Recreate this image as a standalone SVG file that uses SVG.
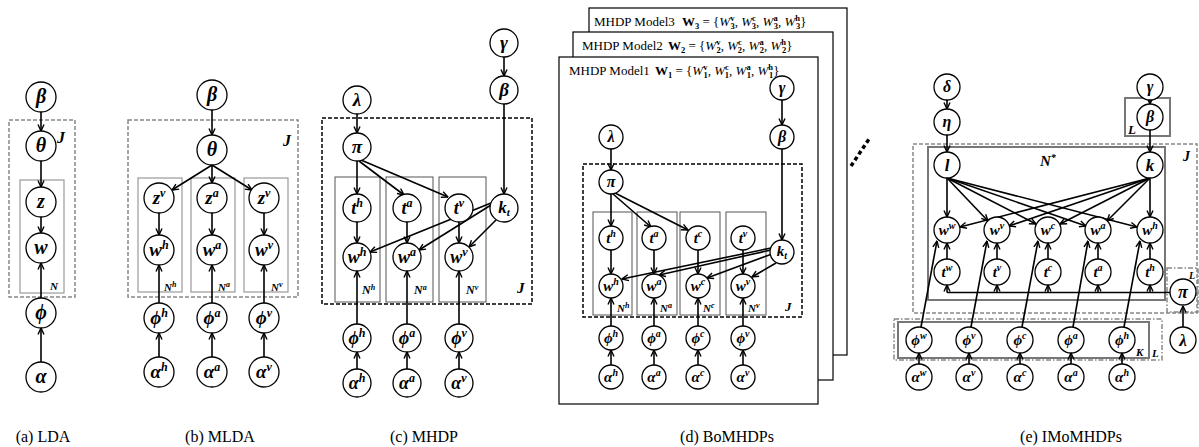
<svg xmlns="http://www.w3.org/2000/svg" width="1199" height="447" viewBox="0 0 1199 447">
<defs>
<marker id="ah" viewBox="0 0 8 8" refX="7.5" refY="4" markerWidth="8" markerHeight="8" markerUnits="userSpaceOnUse" orient="auto"><path d="M1,1 L7.5,4 L1,7" fill="none" stroke="#000" stroke-width="1.4"/></marker>
</defs>
<style>
.n{fill:#fff;stroke:#000;stroke-width:1.3}
.v{font-family:"Liberation Serif","DejaVu Serif",serif;font-style:italic;font-weight:bold;text-anchor:middle;fill:#000}
.e{stroke:#000;stroke-width:1.6;fill:none;marker-end:url(#ah)}
.ln{stroke:#000;stroke-width:1.6;fill:none}
.pg{fill:none;stroke:#888;stroke-width:1.5;stroke-dasharray:4 2}
.pb{fill:none;stroke:#000;stroke-width:1.5;stroke-dasharray:4 2}
.ps{fill:none;stroke:#999;stroke-width:1.2}
.pk{fill:none;stroke:#555;stroke-width:1}
.pt{fill:none;stroke:#777;stroke-width:2}
.pd{fill:none;stroke:#888;stroke-width:1.5;stroke-dasharray:5 2 1.5 2}
.page{fill:#fff;stroke:#000;stroke-width:1.2}
.cap{font-family:"Liberation Serif","Times New Roman",serif;font-size:16px;text-anchor:middle;fill:#000}
.pl{font-family:"Liberation Serif","DejaVu Serif",serif;font-style:italic;font-weight:bold;fill:#000}
.ttl{font-family:"Liberation Serif","Times New Roman",serif;font-size:13px;fill:#000}
.sb{font-size:8.5px;font-weight:bold}
.it{font-style:italic}
</style>

<!-- (a) LDA -->
<g id="a_plates">
<rect class="pg" x="9" y="120" width="66" height="177"/>
<rect class="ps" x="20" y="180" width="44" height="113"/>
<text class="pl" x="57" y="143" font-size="16">J</text>
<text class="pl" x="50" y="290" font-size="11">N</text>
</g>
<g id="a_edges">
<path class="e" d="M41,112 L41,131"/>
<path class="e" d="M41,161 L41,187"/>
<path class="e" d="M41,217 L41,233"/>
<path class="e" d="M41,298 L41,263"/>
<path class="e" d="M41,362 L41,328"/>
</g>
<g id="a_beta"><circle class="n" cx="41" cy="97" r="15"/><text class="v" x="41" y="103" font-size="20">β</text></g>
<g id="a_theta"><circle class="n" cx="41" cy="146" r="15"/><text class="v" x="41" y="152" font-size="20">θ</text></g>
<g id="a_z"><circle class="n" cx="41" cy="202" r="15"/><text class="v" x="41" y="208" font-size="20">z</text></g>
<g id="a_w"><circle class="n" cx="41" cy="248" r="15"/><text class="v" x="41" y="254" font-size="20">w</text></g>
<g id="a_phi"><circle class="n" cx="41" cy="313" r="15"/><text class="v" x="41" y="319" font-size="20">ϕ</text></g>
<g id="a_alpha"><circle class="n" cx="41" cy="377" r="15"/><text class="v" x="41" y="383" font-size="20">α</text></g>
<text class="cap" x="43" y="442">(a) LDA</text>

<!-- (b) MLDA -->
<g id="b_plates">
<rect class="pg" x="128" y="120" width="170" height="177"/>
<rect class="ps" x="138" y="178" width="44" height="114"/>
<rect class="ps" x="191" y="178" width="44" height="114"/>
<rect class="ps" x="244" y="178" width="44" height="114"/>
<text class="pl" x="283" y="146" font-size="16">J</text>
<text class="pl" x="164" y="291" font-size="11">N<tspan font-size="8" dy="-4">h</tspan></text>
<text class="pl" x="218" y="291" font-size="11">N<tspan font-size="8" dy="-4">a</tspan></text>
<text class="pl" x="271" y="291" font-size="11">N<tspan font-size="8" dy="-4">v</tspan></text>
</g>
<g id="b_edges">
<path class="e" d="M212,110 L212,135"/>
<path class="e" d="M212,165 L172,190"/>
<path class="e" d="M212,165 L212,183"/>
<path class="e" d="M212,165 L252,190"/>
<path class="e" d="M159,213 L159,235"/>
<path class="e" d="M212,213 L212,235"/>
<path class="e" d="M264,213 L264,235"/>
<path class="e" d="M159,303 L159,265"/>
<path class="e" d="M212,303 L212,265"/>
<path class="e" d="M264,303 L264,265"/>
<path class="e" d="M159,357 L159,333"/>
<path class="e" d="M212,357 L212,333"/>
<path class="e" d="M264,357 L264,333"/>
</g>
<g id="b_beta"><circle class="n" cx="212" cy="95" r="15"/><text class="v" x="212" y="101" font-size="20">β</text></g>
<g id="b_theta"><circle class="n" cx="212" cy="150" r="15"/><text class="v" x="212" y="156" font-size="20">θ</text></g>
<g id="b_z1"><circle class="n" cx="159" cy="198" r="15"/><text class="v" x="159" y="204" font-size="19">z<tspan font-size="12" dy="-7">v</tspan></text></g>
<g id="b_z2"><circle class="n" cx="212" cy="198" r="15"/><text class="v" x="212" y="204" font-size="19">z<tspan font-size="12" dy="-7">a</tspan></text></g>
<g id="b_z3"><circle class="n" cx="264" cy="198" r="15"/><text class="v" x="264" y="204" font-size="19">z<tspan font-size="12" dy="-7">v</tspan></text></g>
<g id="b_w1"><circle class="n" cx="159" cy="250" r="15"/><text class="v" x="159" y="256" font-size="19">w<tspan font-size="12" dy="-7">h</tspan></text></g>
<g id="b_w2"><circle class="n" cx="212" cy="250" r="15"/><text class="v" x="212" y="256" font-size="19">w<tspan font-size="12" dy="-7">a</tspan></text></g>
<g id="b_w3"><circle class="n" cx="264" cy="250" r="15"/><text class="v" x="264" y="256" font-size="19">w<tspan font-size="12" dy="-7">v</tspan></text></g>
<g id="b_phi1"><circle class="n" cx="159" cy="318" r="15"/><text class="v" x="159" y="324" font-size="19">ϕ<tspan font-size="12" dy="-7">h</tspan></text></g>
<g id="b_phi2"><circle class="n" cx="212" cy="318" r="15"/><text class="v" x="212" y="324" font-size="19">ϕ<tspan font-size="12" dy="-7">a</tspan></text></g>
<g id="b_phi3"><circle class="n" cx="264" cy="318" r="15"/><text class="v" x="264" y="324" font-size="19">ϕ<tspan font-size="12" dy="-7">v</tspan></text></g>
<g id="b_alpha1"><circle class="n" cx="159" cy="372" r="15"/><text class="v" x="159" y="378" font-size="19">α<tspan font-size="12" dy="-7">h</tspan></text></g>
<g id="b_alpha2"><circle class="n" cx="212" cy="372" r="15"/><text class="v" x="212" y="378" font-size="19">α<tspan font-size="12" dy="-7">a</tspan></text></g>
<g id="b_alpha3"><circle class="n" cx="264" cy="372" r="15"/><text class="v" x="264" y="378" font-size="19">α<tspan font-size="12" dy="-7">v</tspan></text></g>
<text class="cap" x="220" y="442">(b) MLDA</text>

<!-- (c) MHDP -->
<g id="c_plates">
<rect class="pb" x="322" y="118" width="210" height="186"/>
<rect class="pk" x="335" y="177" width="45" height="125"/>
<rect class="pk" x="386" y="177" width="47" height="125"/>
<rect class="pk" x="439" y="177" width="47" height="125"/>
<text class="pl" x="517" y="293" font-size="15">J</text>
<text class="pl" x="362" y="294" font-size="12">N<tspan font-size="8" dy="-4">h</tspan></text>
<text class="pl" x="414" y="294" font-size="12">N<tspan font-size="8" dy="-4">a</tspan></text>
<text class="pl" x="466" y="294" font-size="12">N<tspan font-size="8" dy="-4">v</tspan></text>
</g>
<g id="c_edges">
<path class="e" d="M504,57 L504,76"/>
<path class="e" d="M357,114 L357,133"/>
<path class="e" d="M504,104 L504,194"/>
<path class="e" d="M357,161 L357,194"/>
<path class="e" d="M359,161 L404,195"/>
<path class="e" d="M361,160 L448,197"/>
<path class="e" d="M357,222 L357,243"/>
<path class="e" d="M407,222 L407,243"/>
<path class="e" d="M459,222 L459,243"/>
<path class="e" d="M491,203 L370,252"/>
<path class="e" d="M491,205 L419,250"/>
<path class="e" d="M496,220 L469,247"/>
<path class="e" d="M357,324 L357,271"/>
<path class="e" d="M407,324 L407,271"/>
<path class="e" d="M459,324 L459,271"/>
<path class="e" d="M357,369 L357,352"/>
<path class="e" d="M407,369 L407,352"/>
<path class="e" d="M459,369 L459,352"/>
</g>
<g id="c_gamma"><circle class="n" cx="504" cy="43" r="14"/><text class="v" x="504" y="49" font-size="19">γ</text></g>
<g id="c_beta"><circle class="n" cx="504" cy="90" r="14"/><text class="v" x="504" y="96" font-size="19">β</text></g>
<g id="c_lambda"><circle class="n" cx="357" cy="100" r="14"/><text class="v" x="357" y="106" font-size="19">λ</text></g>
<g id="c_pi"><circle class="n" cx="357" cy="147" r="14"/><text class="v" x="357" y="153" font-size="19">π</text></g>
<g id="c_th"><circle class="n" cx="357" cy="208" r="14"/><text class="v" x="357" y="214" font-size="18">t<tspan font-size="12" dy="-7">h</tspan></text></g>
<g id="c_ta"><circle class="n" cx="407" cy="208" r="14"/><text class="v" x="407" y="214" font-size="18">t<tspan font-size="12" dy="-7">a</tspan></text></g>
<g id="c_tv"><circle class="n" cx="459" cy="208" r="14"/><text class="v" x="459" y="214" font-size="18">t<tspan font-size="12" dy="-7">v</tspan></text></g>
<g id="c_kt"><circle class="n" cx="504" cy="208" r="14"/><text class="v" x="504" y="213" font-size="17">k<tspan font-size="11" dy="3">t</tspan></text></g>
<g id="c_wh"><circle class="n" cx="357" cy="257" r="14"/><text class="v" x="357" y="263" font-size="18">w<tspan font-size="12" dy="-7">h</tspan></text></g>
<g id="c_wa"><circle class="n" cx="407" cy="257" r="14"/><text class="v" x="407" y="263" font-size="18">w<tspan font-size="12" dy="-7">a</tspan></text></g>
<g id="c_wv"><circle class="n" cx="459" cy="257" r="14"/><text class="v" x="459" y="263" font-size="18">w<tspan font-size="12" dy="-7">v</tspan></text></g>
<g id="c_phih"><circle class="n" cx="357" cy="338" r="14"/><text class="v" x="357" y="344" font-size="18">ϕ<tspan font-size="12" dy="-7">h</tspan></text></g>
<g id="c_phia"><circle class="n" cx="407" cy="338" r="14"/><text class="v" x="407" y="344" font-size="18">ϕ<tspan font-size="12" dy="-7">a</tspan></text></g>
<g id="c_phiv"><circle class="n" cx="459" cy="338" r="14"/><text class="v" x="459" y="344" font-size="18">ϕ<tspan font-size="12" dy="-7">v</tspan></text></g>
<g id="c_alh"><circle class="n" cx="357" cy="383" r="14"/><text class="v" x="357" y="389" font-size="18">α<tspan font-size="12" dy="-7">h</tspan></text></g>
<g id="c_ala"><circle class="n" cx="407" cy="383" r="14"/><text class="v" x="407" y="389" font-size="18">α<tspan font-size="12" dy="-7">a</tspan></text></g>
<g id="c_alv"><circle class="n" cx="459" cy="383" r="14"/><text class="v" x="459" y="389" font-size="18">α<tspan font-size="12" dy="-7">v</tspan></text></g>
<text class="cap" x="424" y="442">(c) MHDP</text>

<!-- (d) BoMHDPs -->
<g id="d_pages">
<rect class="page" x="589" y="8" width="258" height="347"/>
<text class="ttl" x="594" y="26">MHDP Model3</text>
<text class="ttl" x="682" y="26"><tspan font-weight="bold">W</tspan><tspan class="sb" dy="3">3</tspan><tspan dy="-3"> = {</tspan><tspan class="it">W</tspan><tspan class="sb" dy="-5">v</tspan><tspan class="sb" dx="-4" dy="8">3</tspan><tspan dy="-3">, </tspan><tspan class="it">W</tspan><tspan class="sb" dy="-5">c</tspan><tspan class="sb" dx="-4" dy="8">3</tspan><tspan dy="-3">, </tspan><tspan class="it">W</tspan><tspan class="sb" dy="-5">a</tspan><tspan class="sb" dx="-4" dy="8">3</tspan><tspan dy="-3">, </tspan><tspan class="it">W</tspan><tspan class="sb" dy="-5">h</tspan><tspan class="sb" dx="-4" dy="8">3</tspan><tspan dy="-3">}</tspan></text>
<rect class="page" x="573" y="32" width="260" height="348"/>
<text class="ttl" x="582" y="50">MHDP Model2</text>
<text class="ttl" x="668" y="50"><tspan font-weight="bold">W</tspan><tspan class="sb" dy="3">2</tspan><tspan dy="-3"> = {</tspan><tspan class="it">W</tspan><tspan class="sb" dy="-5">v</tspan><tspan class="sb" dx="-4" dy="8">2</tspan><tspan dy="-3">, </tspan><tspan class="it">W</tspan><tspan class="sb" dy="-5">c</tspan><tspan class="sb" dx="-4" dy="8">2</tspan><tspan dy="-3">, </tspan><tspan class="it">W</tspan><tspan class="sb" dy="-5">a</tspan><tspan class="sb" dx="-4" dy="8">2</tspan><tspan dy="-3">, </tspan><tspan class="it">W</tspan><tspan class="sb" dy="-5">h</tspan><tspan class="sb" dx="-4" dy="8">2</tspan><tspan dy="-3">}</tspan></text>
<rect class="page" x="559" y="57" width="259" height="347"/>
<text class="ttl" x="569" y="75">MHDP Model1</text>
<text class="ttl" x="655" y="75"><tspan font-weight="bold">W</tspan><tspan class="sb" dy="3">1</tspan><tspan dy="-3"> = {</tspan><tspan class="it">W</tspan><tspan class="sb" dy="-5">v</tspan><tspan class="sb" dx="-4" dy="8">1</tspan><tspan dy="-3">, </tspan><tspan class="it">W</tspan><tspan class="sb" dy="-5">c</tspan><tspan class="sb" dx="-4" dy="8">1</tspan><tspan dy="-3">, </tspan><tspan class="it">W</tspan><tspan class="sb" dy="-5">a</tspan><tspan class="sb" dx="-4" dy="8">1</tspan><tspan dy="-3">, </tspan><tspan class="it">W</tspan><tspan class="sb" dy="-5">h</tspan><tspan class="sb" dx="-4" dy="8">1</tspan><tspan dy="-3">}</tspan></text>
<path d="M851,166 L869,139" stroke="#000" stroke-width="3.5" stroke-dasharray="4 3" fill="none"/>
</g>
<g id="d_plates">
<rect class="pb" x="583" y="164" width="219" height="153"/>
<rect class="pk" x="593" y="212" width="39" height="103"/>
<rect class="pk" x="637" y="212" width="40" height="103"/>
<rect class="pk" x="680" y="212" width="40" height="103"/>
<rect class="pk" x="726" y="212" width="40" height="103"/>
<text class="pl" x="785" y="311" font-size="13">J</text>
<text class="pl" x="617" y="312" font-size="11">N<tspan font-size="8" dy="-4">h</tspan></text>
<text class="pl" x="660" y="312" font-size="11">N<tspan font-size="8" dy="-4">a</tspan></text>
<text class="pl" x="703" y="312" font-size="11">N<tspan font-size="8" dy="-4">c</tspan></text>
<text class="pl" x="748" y="312" font-size="11">N<tspan font-size="8" dy="-4">v</tspan></text>
</g>
<g id="d_edges">
<path class="e" d="M782,100 L782,125"/>
<path class="e" d="M611,149 L611,170"/>
<path class="e" d="M782,149 L782,240"/>
<path class="e" d="M611,194 L611,226"/>
<path class="e" d="M613,194 L651,227"/>
<path class="e" d="M615,193 L688,230"/>
<path class="e" d="M611,250 L611,274"/>
<path class="e" d="M654,250 L654,274"/>
<path class="e" d="M698,250 L698,274"/>
<path class="e" d="M743,250 L743,274"/>
<path class="e" d="M771,248 L622,279"/>
<path class="e" d="M771,250 L659,275"/>
<path class="e" d="M772,254 L707,278"/>
<path class="e" d="M776,263 L752,277"/>
<path class="e" d="M611,326 L611,298"/>
<path class="e" d="M654,326 L654,298"/>
<path class="e" d="M698,326 L698,298"/>
<path class="e" d="M743,326 L743,298"/>
<path class="e" d="M611,365 L611,350"/>
<path class="e" d="M654,365 L654,350"/>
<path class="e" d="M698,365 L698,350"/>
<path class="e" d="M743,365 L743,350"/>
</g>
<g id="d_gamma"><circle class="n" cx="782" cy="88" r="12"/><text class="v" x="782" y="93" font-size="16">γ</text></g>
<g id="d_beta"><circle class="n" cx="782" cy="137" r="12"/><text class="v" x="782" y="142" font-size="16">β</text></g>
<g id="d_lambda"><circle class="n" cx="611" cy="137" r="12"/><text class="v" x="611" y="142" font-size="16">λ</text></g>
<g id="d_pi"><circle class="n" cx="611" cy="182" r="12"/><text class="v" x="611" y="187" font-size="16">π</text></g>
<g id="d_th"><circle class="n" cx="611" cy="238" r="12"/><text class="v" x="611" y="243" font-size="15">t<tspan font-size="10" dy="-6">h</tspan></text></g>
<g id="d_ta"><circle class="n" cx="654" cy="238" r="12"/><text class="v" x="654" y="243" font-size="15">t<tspan font-size="10" dy="-6">a</tspan></text></g>
<g id="d_tc"><circle class="n" cx="698" cy="238" r="12"/><text class="v" x="698" y="243" font-size="15">t<tspan font-size="10" dy="-6">c</tspan></text></g>
<g id="d_tv"><circle class="n" cx="743" cy="238" r="12"/><text class="v" x="743" y="243" font-size="15">t<tspan font-size="10" dy="-6">v</tspan></text></g>
<g id="d_kt"><circle class="n" cx="782" cy="252" r="12"/><text class="v" x="782" y="256" font-size="15">k<tspan font-size="10" dy="3">t</tspan></text></g>
<g id="d_wh"><circle class="n" cx="611" cy="286" r="12"/><text class="v" x="611" y="291" font-size="15">w<tspan font-size="10" dy="-6">h</tspan></text></g>
<g id="d_wa"><circle class="n" cx="654" cy="286" r="12"/><text class="v" x="654" y="291" font-size="15">w<tspan font-size="10" dy="-6">a</tspan></text></g>
<g id="d_wc"><circle class="n" cx="698" cy="286" r="12"/><text class="v" x="698" y="291" font-size="15">w<tspan font-size="10" dy="-6">c</tspan></text></g>
<g id="d_wv"><circle class="n" cx="743" cy="286" r="12"/><text class="v" x="743" y="291" font-size="15">w<tspan font-size="10" dy="-6">v</tspan></text></g>
<g id="d_phih"><circle class="n" cx="611" cy="338" r="12"/><text class="v" x="611" y="343" font-size="15">ϕ<tspan font-size="10" dy="-6">h</tspan></text></g>
<g id="d_phia"><circle class="n" cx="654" cy="338" r="12"/><text class="v" x="654" y="343" font-size="15">ϕ<tspan font-size="10" dy="-6">a</tspan></text></g>
<g id="d_phic"><circle class="n" cx="698" cy="338" r="12"/><text class="v" x="698" y="343" font-size="15">ϕ<tspan font-size="10" dy="-6">c</tspan></text></g>
<g id="d_phiv"><circle class="n" cx="743" cy="338" r="12"/><text class="v" x="743" y="343" font-size="15">ϕ<tspan font-size="10" dy="-6">v</tspan></text></g>
<g id="d_alh"><circle class="n" cx="611" cy="377" r="12"/><text class="v" x="611" y="382" font-size="15">α<tspan font-size="10" dy="-6">h</tspan></text></g>
<g id="d_ala"><circle class="n" cx="654" cy="377" r="12"/><text class="v" x="654" y="382" font-size="15">α<tspan font-size="10" dy="-6">a</tspan></text></g>
<g id="d_alc"><circle class="n" cx="698" cy="377" r="12"/><text class="v" x="698" y="382" font-size="15">α<tspan font-size="10" dy="-6">c</tspan></text></g>
<g id="d_alv"><circle class="n" cx="743" cy="377" r="12"/><text class="v" x="743" y="382" font-size="15">α<tspan font-size="10" dy="-6">v</tspan></text></g>
<text class="cap" x="727" y="442">(d) BoMHDPs</text>

<!-- (e) IMoMHDPs -->
<g id="e_plates">
<rect class="pg" x="913" y="144" width="284" height="169"/>
<rect class="pt" x="928" y="147" width="237" height="153"/>
<rect class="pt" x="1125" y="98" width="45" height="38"/>
<rect class="pd" x="1167" y="268" width="31" height="44"/>
<rect class="pt" x="898" y="322" width="251" height="36"/>
<rect class="pd" x="894" y="319" width="268" height="41"/>
<text class="pl" x="1040" y="166" font-size="15">N<tspan font-size="10" dy="-5">*</tspan></text>
<text class="pl" x="1183" y="161" font-size="14">J</text>
<text class="pl" x="1128" y="134" font-size="13">L</text>
<text class="pl" x="1189" y="279" font-size="10">L</text>
<text class="pl" x="1136" y="356" font-size="11">K</text>
<text class="pl" x="1152" y="357" font-size="11">L</text>
</g>
<g id="e_edges">
<path class="e" d="M947,100 L947,109"/>
<path class="e" d="M947,135 L947,152"/>
<path class="e" d="M1150,100 L1150,104"/>
<path class="e" d="M1150,130 L1150,152"/>
<path class="e" d="M947,178 L947,217"/>
<path class="e" d="M947,178 L988,221"/>
<path class="e" d="M947,178 L1036,224"/>
<path class="e" d="M947,178 L1086,226"/>
<path class="e" d="M947,178 L1137,227"/>
<path class="e" d="M1150,178 L1150,217"/>
<path class="e" d="M1150,178 L1107,221"/>
<path class="e" d="M1150,178 L1060,224"/>
<path class="e" d="M1150,178 L1009,226"/>
<path class="e" d="M1150,178 L960,227"/>
<path class="e" d="M947,259 L947,243"/>
<path class="e" d="M997,259 L997,243"/>
<path class="e" d="M1048,259 L1048,243"/>
<path class="e" d="M1098,259 L1098,243"/>
<path class="e" d="M1150,259 L1150,243"/>
<path class="ln" d="M1170,292.5 L947,292.5"/>
<path class="e" d="M947,292.5 L947,285"/>
<path class="e" d="M997,292.5 L997,285"/>
<path class="e" d="M1048,292.5 L1048,285"/>
<path class="e" d="M1098,292.5 L1098,285"/>
<path class="e" d="M1150,292.5 L1150,285"/>
<path class="e" d="M1183,327 L1183,306"/>
<path class="e" d="M921,327 L937,241"/>
<path class="e" d="M971,327 L987,241"/>
<path class="e" d="M1022,327 L1038,241"/>
<path class="e" d="M1073,327 L1088,241"/>
<path class="e" d="M1124,327 L1140,241"/>
<path class="e" d="M919,364 L919,353"/>
<path class="e" d="M969,364 L969,353"/>
<path class="e" d="M1020,364 L1020,353"/>
<path class="e" d="M1071,364 L1071,353"/>
<path class="e" d="M1122,364 L1122,353"/>
</g>
<g id="e_delta"><circle class="n" cx="947" cy="87" r="13"/><text class="v" x="947" y="92" font-size="16">δ</text></g>
<g id="e_eta"><circle class="n" cx="947" cy="122" r="13"/><text class="v" x="947" y="127" font-size="16">η</text></g>
<g id="e_gamma"><circle class="n" cx="1150" cy="87" r="13"/><text class="v" x="1150" y="92" font-size="16">γ</text></g>
<g id="e_beta"><circle class="n" cx="1150" cy="117" r="13"/><text class="v" x="1150" y="122" font-size="16">β</text></g>
<g id="e_l"><circle class="n" cx="947" cy="165" r="13"/><text class="v" x="947" y="171" font-size="17">l</text></g>
<g id="e_k"><circle class="n" cx="1150" cy="165" r="13"/><text class="v" x="1150" y="171" font-size="17">k</text></g>
<g id="e_ww"><circle class="n" cx="947" cy="230" r="13"/><text class="v" x="947" y="235" font-size="15">w<tspan font-size="10" dy="-6">w</tspan></text></g>
<g id="e_wv"><circle class="n" cx="997" cy="230" r="13"/><text class="v" x="997" y="235" font-size="15">w<tspan font-size="10" dy="-6">v</tspan></text></g>
<g id="e_wc"><circle class="n" cx="1048" cy="230" r="13"/><text class="v" x="1048" y="235" font-size="15">w<tspan font-size="10" dy="-6">c</tspan></text></g>
<g id="e_wa"><circle class="n" cx="1098" cy="230" r="13"/><text class="v" x="1098" y="235" font-size="15">w<tspan font-size="10" dy="-6">a</tspan></text></g>
<g id="e_wh"><circle class="n" cx="1150" cy="230" r="13"/><text class="v" x="1150" y="235" font-size="15">w<tspan font-size="10" dy="-6">h</tspan></text></g>
<g id="e_tw"><circle class="n" cx="947" cy="272" r="13"/><text class="v" x="947" y="277" font-size="15">t<tspan font-size="10" dy="-6">w</tspan></text></g>
<g id="e_tv"><circle class="n" cx="997" cy="272" r="13"/><text class="v" x="997" y="277" font-size="15">t<tspan font-size="10" dy="-6">v</tspan></text></g>
<g id="e_tc"><circle class="n" cx="1048" cy="272" r="13"/><text class="v" x="1048" y="277" font-size="15">t<tspan font-size="10" dy="-6">c</tspan></text></g>
<g id="e_ta"><circle class="n" cx="1098" cy="272" r="13"/><text class="v" x="1098" y="277" font-size="15">t<tspan font-size="10" dy="-6">a</tspan></text></g>
<g id="e_th"><circle class="n" cx="1150" cy="272" r="13"/><text class="v" x="1150" y="277" font-size="15">t<tspan font-size="10" dy="-6">h</tspan></text></g>
<g id="e_pi"><circle class="n" cx="1183" cy="292" r="13"/><text class="v" x="1183" y="298" font-size="18">π</text></g>
<g id="e_lambda"><circle class="n" cx="1183" cy="340" r="13"/><text class="v" x="1183" y="346" font-size="17">λ</text></g>
<g id="e_phiw"><circle class="n" cx="919" cy="340" r="13"/><text class="v" x="919" y="345" font-size="15">ϕ<tspan font-size="10" dy="-6">w</tspan></text></g>
<g id="e_phiv"><circle class="n" cx="969" cy="340" r="13"/><text class="v" x="969" y="345" font-size="15">ϕ<tspan font-size="10" dy="-6">v</tspan></text></g>
<g id="e_phic"><circle class="n" cx="1020" cy="340" r="13"/><text class="v" x="1020" y="345" font-size="15">ϕ<tspan font-size="10" dy="-6">c</tspan></text></g>
<g id="e_phia"><circle class="n" cx="1071" cy="340" r="13"/><text class="v" x="1071" y="345" font-size="15">ϕ<tspan font-size="10" dy="-6">a</tspan></text></g>
<g id="e_phih"><circle class="n" cx="1122" cy="340" r="13"/><text class="v" x="1122" y="345" font-size="15">ϕ<tspan font-size="10" dy="-6">h</tspan></text></g>
<g id="e_alw"><circle class="n" cx="919" cy="377" r="13"/><text class="v" x="919" y="382" font-size="15">α<tspan font-size="10" dy="-6">w</tspan></text></g>
<g id="e_alv"><circle class="n" cx="969" cy="377" r="13"/><text class="v" x="969" y="382" font-size="15">α<tspan font-size="10" dy="-6">v</tspan></text></g>
<g id="e_alc"><circle class="n" cx="1020" cy="377" r="13"/><text class="v" x="1020" y="382" font-size="15">α<tspan font-size="10" dy="-6">c</tspan></text></g>
<g id="e_ala"><circle class="n" cx="1071" cy="377" r="13"/><text class="v" x="1071" y="382" font-size="15">α<tspan font-size="10" dy="-6">a</tspan></text></g>
<g id="e_alh"><circle class="n" cx="1122" cy="377" r="13"/><text class="v" x="1122" y="382" font-size="15">α<tspan font-size="10" dy="-6">h</tspan></text></g>
<text class="cap" x="1071" y="442">(e) IMoMHDPs</text>
</svg>
